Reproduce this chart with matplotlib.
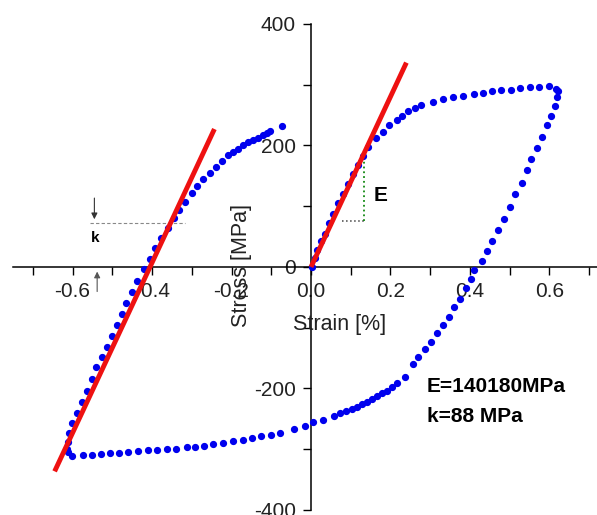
import matplotlib
matplotlib.use("Agg")
import matplotlib.pyplot as plt
from matplotlib.ticker import MultipleLocator

plt.rcParams['font.family'] = ['Liberation Sans', 'DejaVu Sans']

# Measured hysteresis loop (strain in %, stress in MPa), in path order
strain = [
    0.002, 0.010, 0.016, 0.024, 0.035, 0.046, 0.056, 0.069, 0.080, 0.092,
    0.105, 0.117, 0.130, 0.144, 0.164, 0.180, 0.197, 0.216, 0.228, 0.245,
    0.262, 0.278, 0.306, 0.331, 0.358, 0.383, 0.410, 0.432, 0.455, 0.478,
    0.502, 0.526, 0.551, 0.574, 0.600,
    0.616, 0.622, 0.620, 0.613, 0.603, 0.593, 0.581, 0.568, 0.553, 0.543,
    0.530, 0.513, 0.501, 0.486, 0.470, 0.456, 0.442, 0.429, 0.410, 0.402,
    0.390, 0.375, 0.361, 0.347, 0.331, 0.316, 0.302, 0.286, 0.270, 0.256,
    0.236, 0.216, 0.203, 0.190, 0.178, 0.165, 0.153, 0.140, 0.128, 0.115,
    0.102, 0.088, 0.073, 0.058, 0.031, 0.004, -0.015, -0.043, -0.078, -0.101,
    -0.127, -0.149, -0.170, -0.195, -0.221, -0.247, -0.269, -0.292, -0.313, -0.340,
    -0.363, -0.387, -0.409, -0.434, -0.460, -0.482, -0.506, -0.529, -0.552, -0.574,
    -0.602, -0.611, -0.615, -0.611, -0.608, -0.602, -0.589, -0.577, -0.564, -0.552,
    -0.541, -0.526, -0.514, -0.501, -0.489, -0.476, -0.465, -0.451, -0.437, -0.420,
    -0.405, -0.392, -0.378, -0.359, -0.345, -0.331, -0.317, -0.300, -0.286, -0.271,
    -0.254, -0.240, -0.225, -0.208, -0.195, -0.183, -0.170, -0.158, -0.145, -0.133,
    -0.122, -0.111, -0.103, -0.074,
]
stress = [
    0.5, 14, 28, 42, 55, 72, 88, 105, 120, 137,
    153, 168, 183, 198, 212, 223, 233, 242, 249, 256,
    261, 266, 272, 277, 280, 282, 285, 287, 289, 291,
    292, 294, 296, 297, 298,
    293, 289, 279, 265, 249, 233, 214, 196, 178, 159,
    139, 120, 99, 79, 61, 43, 26, 10, -5, -20,
    -35, -52, -66, -82, -95, -109, -123, -135, -148, -160,
    -181, -191, -197, -204, -208, -212, -218, -222, -226, -230,
    -233, -237, -241, -245, -252, -256, -261, -266, -273, -277,
    -279, -282, -285, -287, -289, -291, -294, -296, -297, -299,
    -300, -301, -302, -303, -305, -306, -307, -308, -309, -310,
    -311, -304, -300, -288, -274, -257, -241, -223, -204, -185,
    -165, -148, -131, -114, -95, -77, -60, -42, -23, -4,
    13, 31, 47, 64, 80, 94, 107, 121, 133, 145,
    155, 165, 175, 184, 190, 195, 201, 205, 209, 213,
    217, 221, 224, 232,
]

# Elastic fit lines
E_SLOPE = 1401.8          # MPa per % strain (E = 140180 MPa)
fit1_x = [0.0, 0.24]
fit2_x = [-0.645, -0.243]
fit2_x0 = -0.405

BLUE = "#0000EE"
RED = "#EE1111"


def setup_axes(fig):
    ax = fig.add_axes([0.0216, 0.0039, 0.9787, 0.9495])
    ax.set_xlim(-0.75, 0.72)
    ax.set_ylim(-405, 400)

    for side in ("top", "right"):
        ax.spines[side].set_visible(False)
    ax.spines["left"].set_position("zero")
    ax.spines["bottom"].set_position("zero")
    ax.spines["left"].set_bounds(-400, 400)
    for side in ("left", "bottom"):
        ax.spines[side].set_linewidth(1.1)

    ax.xaxis.set_major_locator(MultipleLocator(0.2))
    ax.xaxis.set_minor_locator(MultipleLocator(0.1))
    ax.yaxis.set_major_locator(MultipleLocator(200))
    ax.yaxis.set_minor_locator(MultipleLocator(100))
    ax.xaxis.set_major_formatter(lambda v, p: f"{v:.1f}")
    ax.yaxis.set_major_formatter(lambda v, p: f"{v:.0f}")
    ax.tick_params(which="both", direction="out", length=6, width=1,
                   labelsize=15, labelcolor="#222222", pad=5)
    ax.patch.set_visible(False)
    return ax


def main():
    fig = plt.figure(figsize=(5.97, 5.15), dpi=100)
    ax = setup_axes(fig)

    # fitted elastic lines
    ax.plot(fit1_x, [E_SLOPE * x for x in fit1_x], color=RED, lw=3.5,
            solid_capstyle="butt", zorder=4)
    ax.plot(fit2_x, [E_SLOPE * (x - fit2_x0) for x in fit2_x], color=RED,
            lw=3.5, solid_capstyle="butt", zorder=4)

    # measured points
    ax.plot(strain, stress, ls="none", marker="o", ms=4.2, color=BLUE,
            mec=BLUE, zorder=3)

    # E construction triangle
    ax.plot([0.079, 0.134], [76, 76], ls=":", color="#444444", lw=1.1)
    ax.plot([0.134, 0.134], [76, 186], ls=":", color="#118811", lw=1.3)
    ax.text(0.157, 117, "E", fontsize=15, fontweight="bold", va="center")

    # k construction
    ax.plot([-0.556, -0.317], [72, 72], ls=(0, (3, 2)), color="#888888", lw=0.8)
    ax.annotate("", xy=(-0.545, 74), xytext=(-0.545, 118),
                arrowprops=dict(arrowstyle="-|>", color="#333333", lw=0.8,
                                mutation_scale=9))
    ax.annotate("", xy=(-0.538, -3), xytext=(-0.538, -45),
                arrowprops=dict(arrowstyle="-|>", color="#555555", lw=0.8,
                                mutation_scale=9))
    ax.text(-0.543, 47, "k", fontsize=11, fontweight="bold",
            ha="center", va="center")

    # results
    ax.text(0.291, -197, "E=140180MPa", fontsize=15, fontweight="bold",
            va="center")
    ax.text(0.291, -246, "k=88 MPa", fontsize=15, fontweight="bold",
            va="center")

    # axis labels sitting on the centred spines
    ax.text(0.073, -95, "Strain [%]", fontsize=15.5, color="#222222",
            ha="center", va="center")
    ax.text(-0.174, 2, "Stress [MPa]", fontsize=15.5, color="#222222",
            rotation=90, ha="center", va="center")

    fig.savefig("out.png", dpi=100)
    plt.close(fig)


if __name__ == "__main__":
    main()
